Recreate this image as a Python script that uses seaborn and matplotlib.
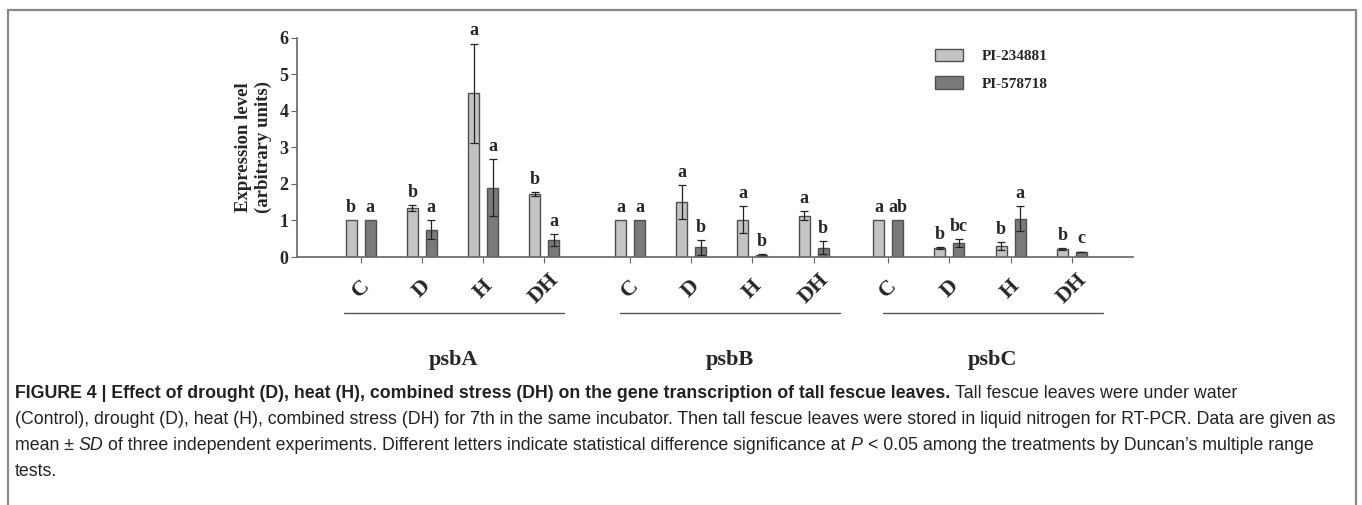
import numpy as np
import pandas as pd
import seaborn as sns
import matplotlib.pyplot as plt
from matplotlib.lines import Line2D

# data
genes = ['psbA', 'psbB', 'psbC']
treatments = ['C', 'D', 'H', 'DH']
cultivars = ['PI-234881', 'PI-578718']

pi234881_mean = [1.00, 1.35, 4.48, 1.72, 1.00, 1.50, 1.02, 1.13, 1.00, 0.24, 0.30, 0.22]
pi234881_sd = [0.00, 0.08, 1.36, 0.05, 0.00, 0.46, 0.37, 0.12, 0.00, 0.02, 0.10, 0.02]
pi578718_mean = [1.00, 0.75, 1.90, 0.47, 1.00, 0.26, 0.06, 0.25, 1.00, 0.38, 1.05, 0.14]
pi578718_sd = [0.00, 0.26, 0.77, 0.16, 0.00, 0.21, 0.03, 0.18, 0.00, 0.10, 0.35, 0.01]
pi234881_letters = ['b', 'b', 'a', 'b', 'a', 'a', 'a', 'a', 'a', 'b', 'b', 'b']
pi578718_letters = ['a', 'a', 'a', 'a', 'a', 'b', 'b', 'b', 'ab', 'bc', 'a', 'c']

# layout: extra space between gene groups, and shift of the gene underline/label
gene_shift = [0.0, 0.40, 0.62]
label_shift = [0.02, 0.14, 0.21]

pos = []
for g in range(len(genes)):
    for t in range(len(treatments)):
        pos.append(g * len(treatments) + t + gene_shift[g])

df = pd.concat([
    pd.DataFrame({'pos': pos, 'value': pi234881_mean, 'cultivar': cultivars[0]}),
    pd.DataFrame({'pos': pos, 'value': pi578718_mean, 'cultivar': cultivars[1]}),
])

sns.set_style('ticks')
plt.rcParams['font.family'] = ['Liberation Serif', 'DejaVu Serif']

fig = plt.figure(figsize=(13.62, 5.05), dpi=100)
ax = fig.add_axes([297 / 1362, 248 / 505, 836 / 1362, 219.3 / 505])

sns.barplot(data=df, x='pos', y='value', hue='cultivar', native_scale=True,
            palette=['#c3c3c3', '#7a7a7a'], width=0.62, gap=0.42,
            edgecolor='#505050', linewidth=1.0, errorbar=None, ax=ax)

sds = [pi234881_sd, pi578718_sd]
letters = [pi234881_letters, pi578718_letters]
for cont, sd, lett in zip(ax.containers, sds, letters):
    bars = sorted(cont.patches, key=lambda b: b.get_x())
    for bar, s, l in zip(bars, sd, lett):
        x = bar.get_x() + bar.get_width() / 2
        h = bar.get_height()
        if s > 0:
            ax.errorbar(x, h, yerr=s, fmt='none', ecolor='#222222',
                        elinewidth=0.9, capsize=3, capthick=0.9)
        ax.annotate(l, (x, h + s), xytext=(0, 3), textcoords='offset points',
                    ha='center', va='bottom', fontsize=13, fontweight='bold')

ax.set_xlim(-1.04, 12.62)
ax.set_ylim(0, 6)
ax.set_yticks(range(7))
ax.set_yticklabels([str(i) for i in range(7)], fontsize=13, fontweight='bold')
ax.set_xticks(pos)
ax.set_xticklabels(treatments * 3, rotation=45, ha='center', va='center',
                   fontsize=16, fontweight='bold')
ax.tick_params(axis='x', length=4, pad=19, color='#666666')
ax.tick_params(axis='y', length=4, pad=2, color='#666666')
sns.despine(ax=ax)
for side in ['left', 'bottom']:
    ax.spines[side].set_color('#666666')
    ax.spines[side].set_linewidth(1.2)
ax.set_xlabel('')
ax.set_ylabel('Expression level\n(arbitrary units)', fontsize=13.5, fontweight='bold')
ax.yaxis.set_label_coords(-0.03, 0.5)

# group underlines and gene names
tr = ax.get_xaxis_transform()
for g, name in enumerate(genes):
    mid = (pos[g * 4] + pos[g * 4 + 3]) / 2 + label_shift[g]
    ax.plot([mid - 1.8, mid + 1.8], [-0.255, -0.255], transform=tr,
            color='#555555', lw=1.0, clip_on=False)
    ax.text(mid, -0.47, name, transform=tr, ha='center',
            va='center', fontsize=16, fontweight='bold')

leg = ax.legend(loc='upper left', bbox_to_anchor=(921 / 1362, 1 - 35 / 505),
                bbox_transform=fig.transFigure, frameon=False,
                prop={'weight': 'bold', 'size': 11}, handlelength=1.85,
                handleheight=0.9, handletextpad=1.25, labelspacing=0.85)

# frame around figure
frame_kw = dict(color='#888888', lw=1.6, transform=fig.transFigure)
fig.add_artist(Line2D([7.5 / 1362, 1356 / 1362], [1 - 9.5 / 505] * 2, **frame_kw))
fig.add_artist(Line2D([7.5 / 1362] * 2, [0, 1 - 9.5 / 505], **frame_kw))
fig.add_artist(Line2D([1356 / 1362] * 2, [0, 1 - 9.5 / 505], **frame_kw))

# caption with mixed styles
cap_family = ['Liberation Sans Narrow', 'Liberation Sans', 'DejaVu Sans']
caption = [
    [('FIGURE 4 | Effect of drought (D), heat (H), combined stress (DH) on the gene transcription of tall fescue leaves.', 'bold', 'normal'),
     ('Tall fescue leaves were under water', 'normal', 'normal')],
    [('(Control), drought (D), heat (H), combined stress (DH) for 7th in the same incubator. Then tall fescue leaves were stored in liquid nitrogen for RT-PCR. Data are given as', 'normal', 'normal')],
    [('mean \u00b1', 'normal', 'normal'), ('SD', 'normal', 'italic'),
     ('of three independent experiments. Different letters indicate statistical difference significance at', 'normal', 'normal'),
     ('P', 'normal', 'italic'),
     ('< 0.05 among the treatments by Duncan\u2019s multiple range', 'normal', 'normal')],
    [('tests.', 'normal', 'normal')],
]

renderer = fig.canvas.get_renderer()
probe = fig.text(0, 0, caption[1][0][0], fontsize=12, family=cap_family)
w = probe.get_window_extent(renderer).width
probe.remove()
cap_size = 12 * 1322 / w
space_px = cap_size * 0.278 * 100 / 72

line_y = [394, 420, 446, 471]
for runs, yy in zip(caption, line_y):
    x_px = 15
    for i, (txt, weight, style) in enumerate(runs):
        if i > 0:
            x_px += space_px
        t = fig.text(x_px / 1362, 1 - yy / 505, txt, fontsize=cap_size,
                     family=cap_family, weight=weight, style=style,
                     va='center', ha='left', color='#222222')
        x_px += t.get_window_extent(renderer).width

fig.savefig('out.png', dpi=100)
